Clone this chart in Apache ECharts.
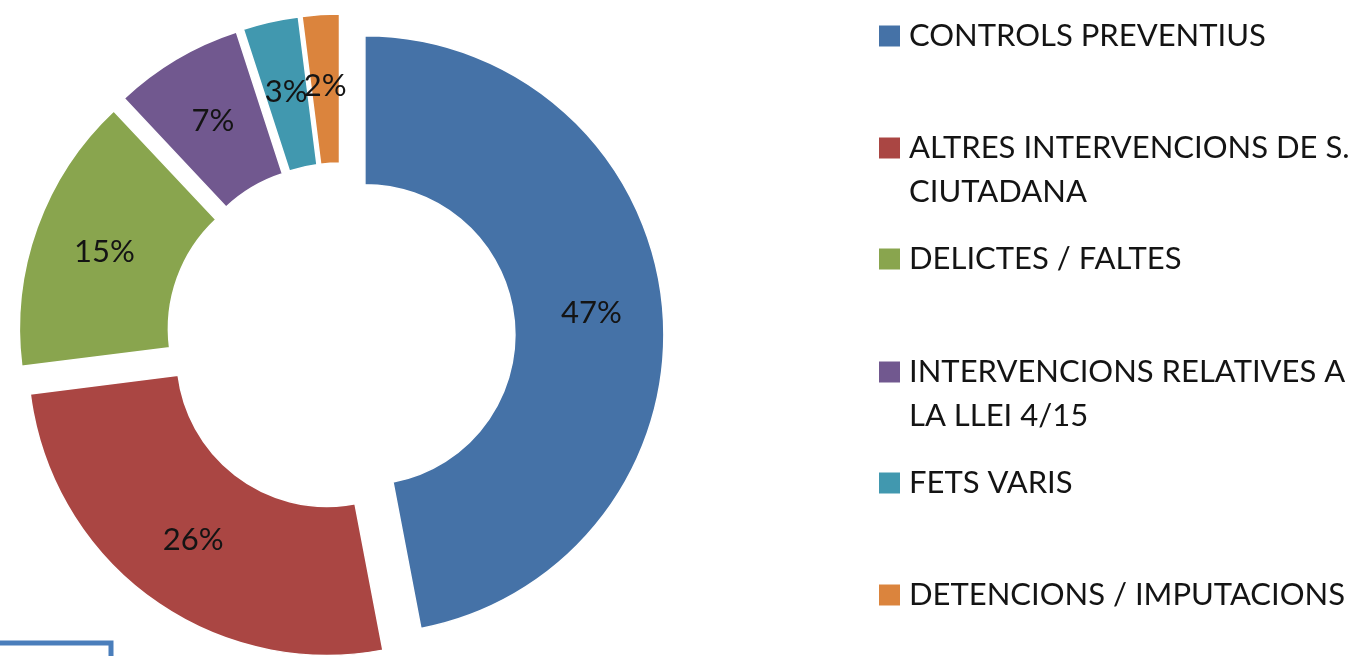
<!DOCTYPE html>
<html>
<head>
<meta charset="utf-8">
<script src="https://cdn.jsdelivr.net/npm/echarts@6/dist/echarts.min.js"></script>
<style>
html,body{margin:0;padding:0;background:#fff;}
#chart{width:1362px;height:656px;}
</style>
</head>
<body>
<div id="chart"></div>
<script>
const categories = [
  'CONTROLS PREVENTIUS',
  'ALTRES INTERVENCIONS DE S. CIUTADANA',
  'DELICTES / FALTES',
  'INTERVENCIONS RELATIVES A LA LLEI 4/15',
  'FETS VARIS',
  'DETENCIONS / IMPUTACIONS'
];
const legendLines = [
  ['CONTROLS PREVENTIUS'],
  ['ALTRES INTERVENCIONS DE S.', 'CIUTADANA'],
  ['DELICTES / FALTES'],
  ['INTERVENCIONS RELATIVES A', 'LA LLEI 4/15'],
  ['FETS VARIS'],
  ['DETENCIONS / IMPUTACIONS']
];
const percentages = [47, 26, 15, 7, 3, 2];
const colors = ['#4572A7', '#AA4643', '#89A54E', '#71588F', '#4198AF', '#DB843D'];

const FONT = 'Lato';
const legendCenters = [36, 148, 259, 372, 483, 595];
const LH = 44;

const legends = categories.map((name, i) => {
  const lines = legendLines[i];
  const multi = lines.length > 1;
  const top = multi ? legendCenters[i] - LH * 1.5 : legendCenters[i] - LH / 2;
  return {
    show: true,
    orient: 'vertical',
    left: 877,
    top: top,
    padding: 0,
    icon: 'rect',
    itemWidth: 23,
    itemHeight: 23,
    data: [name],
    selectedMode: false,
    formatter: function () {
      return multi ? (' \n' + lines.join('\n')) : lines[0];
    },
    textStyle: {
      fontFamily: FONT,
      fontSize: 31,
      color: '#141414',
      lineHeight: LH,
      padding: [0, 0, 0, 3]
    }
  };
});

const chart = echarts.init(document.getElementById('chart'), null, {renderer: 'canvas'});
chart.setOption({
  animation: false,
  backgroundColor: '#ffffff',
  color: colors,
  legend: legends,
  graphic: [{
    type: 'rect',
    shape: {x: -10, y: 643, width: 121, height: 40},
    style: {fill: 'none', stroke: '#4a7ebb', lineWidth: 5},
    silent: true
  }],
  series: [{
    type: 'pie',
    center: [341, 337],
    radius: [150, 299],
    startAngle: 90,
    clockwise: true,
    selectedMode: 'multiple',
    selectedOffset: 24,
    avoidLabelOverlap: false,
    minShowLabelAngle: 0,
    labelLayout: {hideOverlap: false},
    itemStyle: {borderColor: '#ffffff', borderWidth: 1.5},
    label: {
      show: true,
      position: 'inside',
      formatter: '{c}%',
      fontFamily: FONT,
      fontSize: 31,
      color: '#141414',
      overflow: 'none'
    },
    labelLine: {show: false},
    emphasis: {disabled: true},
    data: categories.map((name, i) => ({
      name: name,
      value: percentages[i],
      selected: true
    }))
  }]
});
</script>
</body>
</html>
